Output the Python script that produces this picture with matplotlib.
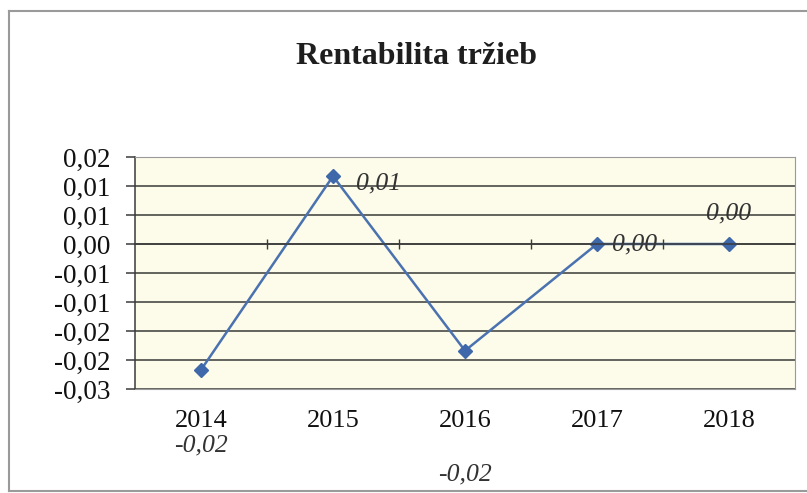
import matplotlib
matplotlib.use("Agg")
import matplotlib.pyplot as plt
from matplotlib.lines import Line2D

years = ["2014", "2015", "2016", "2017", "2018"]
values = [-0.0217, 0.0117, -0.0184, 0.0, 0.0]
ytick_values = [0.015, 0.01, 0.005, 0.0, -0.005, -0.01, -0.015, -0.02, -0.025]
ytick_labels = ["0,02", "0,01", "0,01", "0,00", "-0,01", "-0,01", "-0,02", "-0,02", "-0,03"]
title = "Rentabilita tržieb"

plt.rcParams['font.family'] = ['Liberation Serif', 'DejaVu Serif']

fig = plt.figure(figsize=(8.07, 4.93), dpi=100)
ax = fig.add_axes([135/807, 1-389/493, (795-135)/807, (389-157)/493])
ax.set_facecolor("#fdfbe9")

x = list(range(len(years)))
ax.plot(x, values, color="#4a72b0", lw=1.8, marker="D", ms=7,
        mfc="#3f68aa", mec="#3f68aa", zorder=3)

ax.set_xlim(-0.5, len(years) - 0.5)
ax.set_ylim(-0.025, 0.015)
ax.set_yticks(ytick_values)
ax.set_yticklabels(ytick_labels, fontsize=19.5, color="#111111")
ax.yaxis.grid(True, color="#3a3a3a", lw=1.1)
ax.set_axisbelow(True)
ax.tick_params(axis="y", length=6.5, width=1.1, color="#3a3a3a", pad=11)

ax.set_xticks(x)
ax.set_xticklabels(years, fontsize=19, color="#111111")
ax.tick_params(axis="x", length=0, pad=15)

for side in ["top", "right", "bottom"]:
    ax.spines[side].set_color("#9a9a9a")
ax.spines["left"].set_color("#3a3a3a")
ax.spines["left"].set_linewidth(1.1)

# horizontal axis crossing at zero with small tick marks between categories
ax2 = ax.twiny()
ax2.set_xlim(ax.get_xlim())
for side in ["top", "right", "left"]:
    ax2.spines[side].set_visible(False)
ax2.spines["bottom"].set_position(("data", 0))
ax2.spines["bottom"].set_color("#3a3a3a")
ax2.spines["bottom"].set_linewidth(1.1)
ax2.xaxis.set_ticks_position("bottom")
ax2.set_xticks([i + 0.5 for i in x[:-1]])
ax2.set_xticklabels([])
ax2.tick_params(axis="x", direction="inout", length=7, width=1, color="#3a3a3a")

# data labels
offsets = [(0, -76), (23, -7), (0, -124), (15, 0), (0, 31)]
aligns = ["center", "left", "center", "left", "center"]
for i, v in enumerate(values):
    lbl = f"{v:.2f}".replace(".", ",")
    ax.annotate(lbl, (i, v), xytext=offsets[i], textcoords="offset pixels",
                ha=aligns[i], va="center", fontsize=18.5, style="italic",
                color="#333333", annotation_clip=False)

fig.text(417/807, 1-57/493, title, ha="center", va="center",
         fontsize=23, fontweight="bold", color="#1e1e1e")

# outer chart frame
frame_kw = dict(color="#9a9a9a", lw=1.5, transform=fig.transFigure)
fig.add_artist(Line2D([9/807, 9/807], [1-11/493, 1-491/493], **frame_kw))
fig.add_artist(Line2D([9/807, 1], [1-11/493, 1-11/493], **frame_kw))
fig.add_artist(Line2D([9/807, 1], [1-491/493, 1-491/493], **frame_kw))

fig.savefig("out.png", dpi=100)
